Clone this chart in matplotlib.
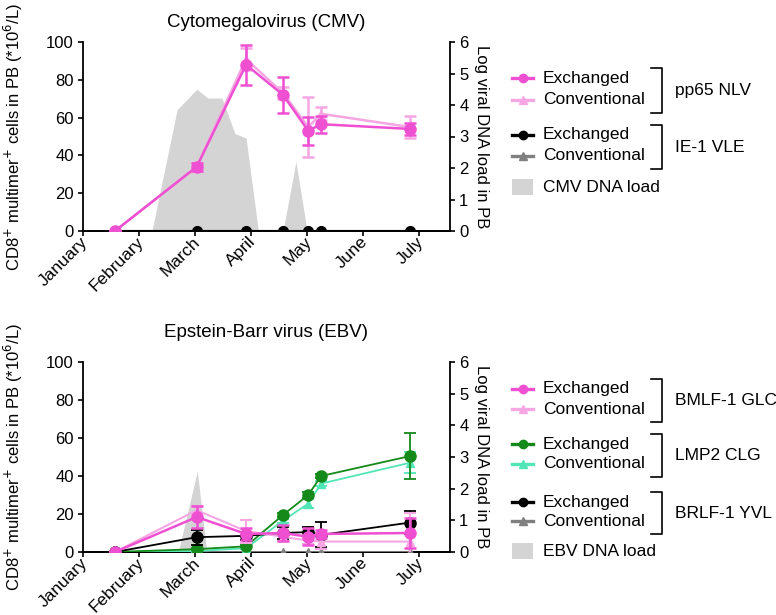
import matplotlib
matplotlib.use('Agg')
import matplotlib.pyplot as plt
from matplotlib.lines import Line2D
from matplotlib.patches import Rectangle
from matplotlib.transforms import ScaledTranslation

plt.rcParams['font.family'] = ['Liberation Sans', 'DejaVu Sans']
plt.rcParams['font.size'] = 12

months = ['January', 'February', 'March', 'April', 'May', 'June', 'July']

# sample times in months since 1 January
t_all = [0.57, 2.03, 2.91, 3.57, 4.02, 4.25, 5.84]

# CMV
pp65_exch = [0, 34, 88, 72, 53, 56.5, 54]
pp65_exch_err = [0, 2, 10.5, 9.5, 7.5, 4.5, 3]
pp65_conv = [0, 34, 91, 73, 55, 62, 55]
pp65_conv_err = [0, 2, 6, 3, 16, 3.5, 6]
ie1_exch = [0, 0, 0, 0, 0, 0, 0]
ie1_conv = [0, 0, 0, 0, 0, 0, 0]
cmv_load_t = [1.23, 1.68, 2.03, 2.23, 2.48, 2.71, 2.91, 3.13, 3.57, 3.80, 4.00]
cmv_load = [0, 3.85, 4.5, 4.22, 4.22, 3.1, 2.95, 0, 0, 2.2, 0]

# EBV
bmlf_exch = [0, 18.4, 9.5, 10, 8, 9.5, 10]
bmlf_exch_err = [0, 6, 3, 4, 4.5, 2, 8]
bmlf_conv = [0, 22, 11, 8, 6, 5.5, 5.5]
bmlf_conv_err = [0, 2, 6, 2, 2, 4, 15]
lmp2_exch = [0, 1.5, 3, 19.5, 30, 40, 50.5]
lmp2_exch_err = [0, 0.5, 0.5, 1, 1.5, 1, 12]
lmp2_conv = [0, 0.5, 2, 16.5, 25.5, 36, 47]
lmp2_conv_err = [0, 0.5, 0.5, 1, 2.5, 1.5, 5.5]
brlf_exch = [0, 7.8, 8.5, 10, 10.5, 9, 15.5]
brlf_exch_err = [0, 4, 2, 3, 2.5, 6.6, 6]
brlf_conv = [0, 0, 0, 0, 0, 0, 0]
ebv_load_t = [1.70, 2.04, 2.21]
ebv_load = [0, 2.55, 0]

PINK = '#EF50D2'
LPINK = '#F5A6E3'
GREEN = '#15891A'
AQUA = '#52E6B6'
BLACK = '#000000'
GREY = '#808080'
FILL = '#D4D4D4'

W, H = 776, 615
fig = plt.figure(figsize=(W / 100, H / 100), dpi=100)


def fx(x):
    return x / W


def fy(y):
    return 1 - y / H


def series(ax, y, err, color, marker, lw, ms, z):
    ax.errorbar(t_all, y, yerr=err, color=color, marker=marker, lw=lw, ms=ms,
                capsize=4, capthick=lw, elinewidth=lw, zorder=z)


def setup_panel(rect, title, pad):
    ax = fig.add_axes(rect)
    ax2 = ax.twinx()
    ax.set_zorder(ax2.get_zorder() + 1)
    ax.patch.set_visible(False)
    ax.set_xlim(0, 6.55)
    ax.set_ylim(0, 100)
    ax2.set_ylim(0, 6)
    ax.set_yticks([0, 20, 40, 60, 80, 100])
    ax2.set_yticks(range(7))
    ax.set_xticks(range(len(months)))
    ax.set_xticklabels([])
    # month labels: baseline end sits a little right of and below each tick
    shift = ScaledTranslation(5.5 / 100, -11.5 / 100, fig.dpi_scale_trans)
    for i, m in enumerate(months):
        ax.text(i, 0, m, transform=ax.get_xaxis_transform() + shift, rotation=45,
                ha='right', va='baseline', rotation_mode='anchor', fontsize=12.5,
                clip_on=False)
    for a in (ax, ax2):
        a.spines['top'].set_visible(False)
        a.tick_params(width=1.2, length=3.6, pad=3)
        for s in a.spines.values():
            s.set_linewidth(1.3)
    ax.spines['right'].set_visible(False)
    ax2.spines['left'].set_visible(False)
    ax.set_ylabel(r'CD8$^{+}$ multimer$^{+}$ cells in PB (*10$^{6}$/L)', labelpad=15)
    ax2.set_ylabel('Log viral DNA load in PB', rotation=270, labelpad=15)
    ax.set_title(title, fontsize=13.5, pad=pad)
    return ax, ax2


def legend_block(y_rows, entries, groups, load_y, load_label):
    # entries: (color, marker, label) per row; groups: (row_a, row_b, name)
    for y, (c, m, lab) in zip(y_rows, entries):
        fig.add_artist(Line2D([fx(512), fx(533)], [fy(y), fy(y)], color=c, lw=2.4))
        fig.add_artist(Line2D([fx(522.5)], [fy(y)], color=c, marker=m, ms=6))
        fig.text(fx(543), fy(y), lab, va='center', ha='left', fontsize=12.5)
    for ya, yb, name in groups:
        top, bot = ya - 10, yb + 13
        fig.add_artist(Line2D([fx(651), fx(662), fx(662), fx(651)],
                              [fy(top), fy(top), fy(bot), fy(bot)], color='black', lw=1.2))
        fig.text(fx(675), fy((top + bot) / 2), name, va='center', ha='left', fontsize=12.5)
    fig.add_artist(Rectangle((fx(512), fy(load_y + 8)), fx(21), 16 / H, color=FILL, lw=0))
    fig.text(fx(543), fy(load_y), load_label, va='center', ha='left', fontsize=12.5)


# ---- CMV panel ----
ax, ax2 = setup_panel([fx(83), fy(231), fx(367), 189 / H], 'Cytomegalovirus (CMV)', 11)
ax2.fill_between(cmv_load_t, cmv_load, color=FILL, lw=0)
series(ax, ie1_conv, None, GREY, '^', 1.5, 6, 3)
series(ax, ie1_exch, None, BLACK, 'o', 1.5, 7, 4)
series(ax, pp65_conv, pp65_conv_err, LPINK, '^', 1.8, 6, 5)
series(ax, pp65_exch, pp65_exch_err, PINK, 'o', 1.8, 8, 6)

legend_block([78, 100, 135, 156],
             [(PINK, 'o', 'Exchanged'), (LPINK, '^', 'Conventional'),
              (BLACK, 'o', 'Exchanged'), (GREY, '^', 'Conventional')],
             [(78, 100, 'pp65 NLV'), (135, 156, 'IE-1 VLE')],
             187, 'CMV DNA load')

# ---- EBV panel ----
bx, bx2 = setup_panel([fx(83), fy(552), fx(367), 190 / H], 'Epstein-Barr virus (EBV)', 18)
bx2.fill_between(ebv_load_t, ebv_load, color=FILL, lw=0)
series(bx, brlf_conv, None, GREY, '^', 1.3, 6, 3)
series(bx, lmp2_conv, lmp2_conv_err, AQUA, '^', 1.3, 6, 4)
series(bx, lmp2_exch, lmp2_exch_err, GREEN, 'o', 1.3, 8, 5)
series(bx, brlf_exch, brlf_exch_err, BLACK, 'o', 1.3, 8, 6)
series(bx, bmlf_conv, bmlf_conv_err, LPINK, '^', 1.5, 6, 7)
series(bx, bmlf_exch, bmlf_exch_err, PINK, 'o', 1.8, 8, 8)

legend_block([389, 409, 444, 464, 502, 521],
             [(PINK, 'o', 'Exchanged'), (LPINK, '^', 'Conventional'),
              (GREEN, 'o', 'Exchanged'), (AQUA, '^', 'Conventional'),
              (BLACK, 'o', 'Exchanged'), (GREY, '^', 'Conventional')],
             [(389, 409, 'BMLF-1 GLC'), (444, 464, 'LMP2 CLG'), (502, 521, 'BRLF-1 YVL')],
             551, 'EBV DNA load')

fig.savefig('out.png', dpi=100)
